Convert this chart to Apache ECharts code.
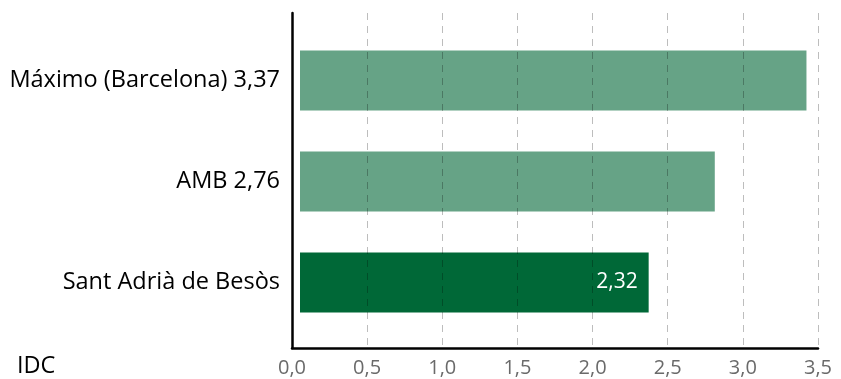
<!DOCTYPE html>
<html><head><meta charset="utf-8">
<script src="https://cdn.jsdelivr.net/npm/echarts@6/dist/echarts.min.js"></script>
<style>html,body{margin:0;padding:0;background:#fff}#c{width:841px;height:379px}</style>
</head><body><div id="c"></div>
<script>
const categories = ['Máximo (Barcelona) 3,37', 'AMB 2,76', 'Sant Adrià de Besòs'];
const values = [3.37, 2.76, 2.32];
const barColors = ['#66a386', '#66a386', '#006837'];
const valueLabels = ['', '', '2,32'];
const axisTitle = 'IDC';
const xMin = 0, xMax = 3.5, xStep = 0.5;

const FONT = '"Open Sans", sans-serif';
const chart = echarts.init(document.getElementById('c'), null, {renderer: 'canvas'});
// bars start a few pixels right of the axis line, as in the reference
const plotW = 818 - 292;
const offset = 8 / (plotW / (xMax - xMin));
chart.setOption({
  animation: false,
  grid: [
    {left: 292, right: 23, top: 13, bottom: 31},
    {left: 292, right: 23, top: 30, bottom: 46}
  ],
  xAxis: [
    {gridIndex: 0, type: 'value', min: xMin, max: xMax, interval: xStep, z: 10,
     axisLine: {show: true, onZero: false, lineStyle: {color: '#000', width: 2.5}},
     axisTick: {show: false},
     axisLabel: {color: '#6a6a6a', fontSize: 20, fontFamily: FONT, margin: 10,
       formatter: v => v.toFixed(1).replace('.', ',')},
     splitLine: {show: true, lineStyle: {color: 'rgba(0,0,0,0.26)', type: [7, 6], width: 1}}},
    {gridIndex: 1, type: 'value', min: xMin - offset, max: xMax - offset, show: false}
  ],
  yAxis: [
    {gridIndex: 0, type: 'value', min: 0, max: 1,
     axisLine: {show: true, lineStyle: {color: '#000', width: 2.5}},
     axisTick: {show: false}, axisLabel: {show: false}, splitLine: {show: false}},
    {gridIndex: 1, type: 'category', data: categories, inverse: true,
     axisLine: {show: false}, axisTick: {show: false}, splitLine: {show: false},
     axisLabel: {color: '#000', fontSize: 23.5, fontFamily: FONT, margin: 12}}
  ],
  graphic: [{type: 'text', left: 17, top: 354,
    style: {text: axisTitle, fill: '#000', fontSize: 23.5, fontFamily: FONT}}],
  series: [{
    type: 'bar', xAxisIndex: 1, yAxisIndex: 1, barWidth: 60,
    data: values.map((v, i) => ({value: v, itemStyle: {color: barColors[i]},
      label: {show: !!valueLabels[i], formatter: valueLabels[i]}})),
    label: {position: 'insideRight', distance: 11, color: '#fff', fontSize: 21, fontFamily: FONT}
  }]
});
</script></body></html>
